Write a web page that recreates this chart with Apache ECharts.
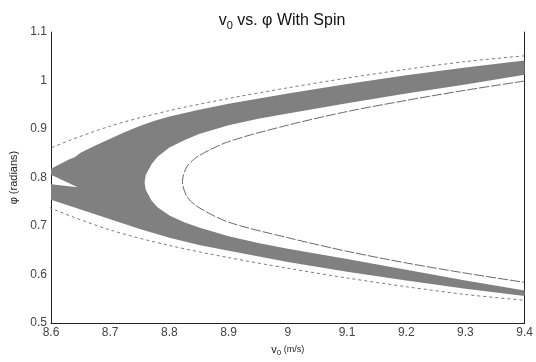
<!DOCTYPE html>
<html>
<head>
<meta charset="utf-8">
<script src="https://cdn.jsdelivr.net/npm/echarts@6/dist/echarts.min.js"></script>
<style>
  html, body { margin: 0; padding: 0; background: #fff; }
  #chart { width: 536px; height: 362px; }
</style>
</head>
<body>
<div id="chart"></div>
<script>
// points are [v0 (m/s), phi (radians)]

// outer thin boundary (dotted), top-right -> vertex -> bottom-right
const outerLine = [
  [9.4, 1.051], [9.3, 1.039], [9.2, 1.023], [9.1, 1.005], [9.0, 0.985],
  [8.9, 0.963], [8.8, 0.938], [8.7, 0.906], [8.6, 0.861], [8.57, 0.838],
  [8.55, 0.799],
  [8.57, 0.760], [8.6, 0.737], [8.7, 0.692], [8.8, 0.660], [8.9, 0.635],
  [9.0, 0.613], [9.1, 0.593], [9.2, 0.575], [9.3, 0.559], [9.4, 0.547]
];

// inner thin boundary
const innerLine = [
  [9.4, 0.999], [9.3, 0.980], [9.2, 0.959], [9.1, 0.936], [9.0, 0.908],
  [8.9, 0.874], [8.85, 0.845], [8.83, 0.823], [8.822, 0.792],
  [8.83, 0.760], [8.85, 0.738], [8.9, 0.708], [9.0, 0.676], [9.1, 0.648],
  [9.2, 0.624], [9.3, 0.603], [9.4, 0.584]
];

// grey band: outer edge, upper part (right -> left)
const bandOuterTop = [
  [9.4, 1.041], [9.3, 1.027], [9.2, 1.011], [9.1, 0.993], [9.0, 0.973],
  [8.9, 0.952], [8.85, 0.940], [8.8, 0.926], [8.775, 0.917], [8.75, 0.906],
  [8.725, 0.894], [8.7, 0.880], [8.675, 0.866], [8.65, 0.851], [8.64, 0.842],
  [8.632, 0.838], [8.6, 0.818]
];

// white notch at the left edge
const bandNotch = [[8.6, 0.806], [8.645, 0.780], [8.6, 0.786]];

// grey band: outer edge, lower part (left -> right)
const bandOuterBottom = [
  [8.6, 0.754], [8.65, 0.734], [8.7, 0.714], [8.75, 0.694], [8.8, 0.676],
  [8.85, 0.661], [8.9, 0.649], [9.0, 0.626], [9.1, 0.606], [9.2, 0.588],
  [9.3, 0.571], [9.4, 0.556]
];

// grey band: inner edge, lower part (right -> vertex)
const bandInnerBottom = [
  [9.4, 0.567], [9.3, 0.588], [9.2, 0.610], [9.1, 0.632], [9.0, 0.653],
  [8.95, 0.665], [8.9, 0.679], [8.85, 0.697], [8.825, 0.708], [8.8, 0.722],
  [8.78, 0.739], [8.77, 0.752], [8.76, 0.775], [8.758, 0.790]
];

// grey band: inner edge, upper part (vertex -> right)
const bandInnerTop = [
  [8.76, 0.805], [8.77, 0.828], [8.78, 0.843], [8.8, 0.862], [8.825, 0.877],
  [8.85, 0.890], [8.9, 0.908], [8.95, 0.921], [9.0, 0.932], [9.1, 0.953],
  [9.2, 0.973], [9.3, 0.992], [9.4, 1.012]
];

const font = "'Liberation Sans', Arial, sans-serif";

const chart = echarts.init(document.getElementById('chart'), null, { renderer: 'canvas' });

chart.setOption({
  animation: false,
  backgroundColor: '#fff',
  title: {
    text: '{v|v}{s|0}{v| vs. φ With Spin}',
    left: 277,
    top: 6,
    textAlign: 'center',
    textStyle: {
      rich: {
        v: { fontFamily: font, fontSize: 16, fontWeight: 'normal', color: '#111' },
        s: { fontFamily: font, fontSize: 11, fontWeight: 'normal', color: '#111', padding: [9, 0, 0, 0] }
      }
    }
  },
  grid: { left: 46, right: 5, top: 32, bottom: 36 },
  xAxis: {
    type: 'value',
    min: 8.6,
    max: 9.4,
    interval: 0.1,
    name: '{v|v}{s|0}{u| (m/s)}',
    nameLocation: 'middle',
    nameGap: 16,
    nameTextStyle: {
      rich: {
        v: { fontFamily: font, fontSize: 11, color: '#222' },
        s: { fontFamily: font, fontSize: 8, color: '#222', padding: [7, 0, 0, 0] },
        u: { fontFamily: font, fontSize: 9, color: '#222' }
      }
    },
    axisLine: { show: true, lineStyle: { color: '#222', width: 1 } },
    axisTick: { show: false },
    splitLine: { show: false },
    axisLabel: { fontFamily: font, fontSize: 12, color: '#444', margin: 4 }
  },
  yAxis: [
    {
      type: 'value',
      min: 0.5,
      max: 1.1,
      interval: 0.1,
      name: 'φ (radians)',
      nameLocation: 'middle',
      nameGap: 32,
      nameTextStyle: { fontFamily: font, fontSize: 11, color: '#222' },
      axisLine: { show: true, lineStyle: { color: '#222', width: 1 } },
      axisTick: { show: false },
      splitLine: { show: false },
      axisLabel: { fontFamily: font, fontSize: 12, color: '#444', margin: 4 }
    },
    {
      type: 'value',
      position: 'right',
      min: 0.5,
      max: 1.1,
      interval: 0.1,
      axisLine: { show: true, lineStyle: { color: '#222', width: 1 } },
      axisTick: { show: false },
      splitLine: { show: false },
      axisLabel: { show: false }
    }
  ],
  series: [
    {
      type: 'custom',
      clip: true,
      silent: true,
      data: [[9, 0.8]],
      renderItem: function (params, api) {
        const ring = [].concat(bandOuterTop, bandNotch, bandOuterBottom, bandInnerBottom, bandInnerTop);
        return {
          type: 'polygon',
          shape: { points: ring.map(function (p) { return api.coord(p); }) },
          style: { fill: '#808080' }
        };
      }
    },
    {
      type: 'line',
      data: outerLine,
      showSymbol: false,
      smooth: 0.3,
      clip: true,
      lineStyle: { color: '#7a7a7a', width: 1, type: [3, 3] }
    },
    {
      type: 'line',
      data: innerLine,
      showSymbol: false,
      smooth: 0.3,
      clip: true,
      lineStyle: { color: '#6a6a6a', width: 1, type: [10, 2] }
    }
  ]
});
</script>
</body>
</html>
